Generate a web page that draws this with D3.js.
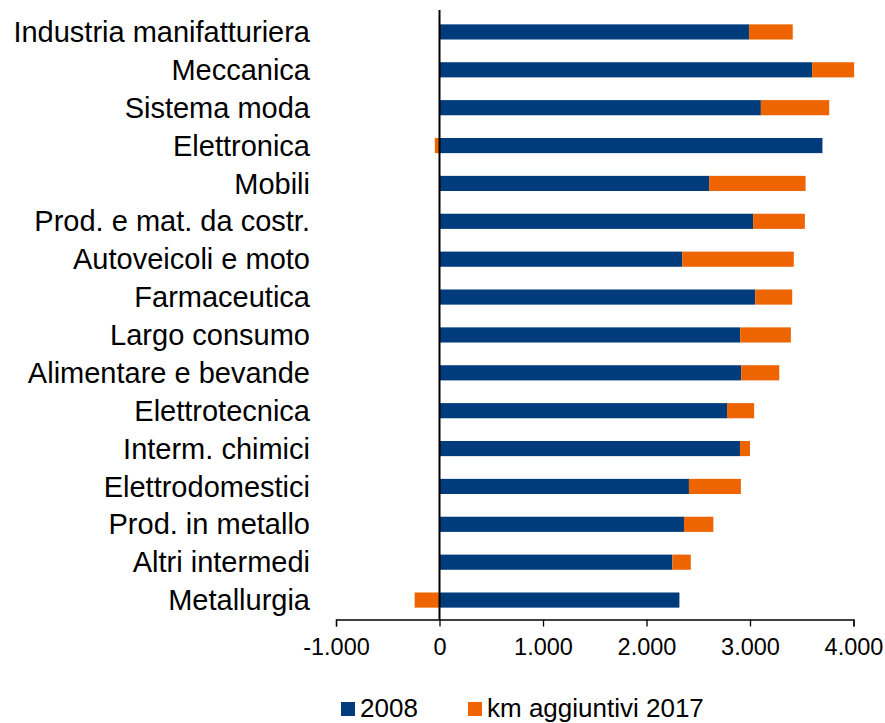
<!DOCTYPE html>
<html>
<head>
<meta charset="utf-8">
<script src="https://cdn.jsdelivr.net/npm/d3@7"></script>
<style>
  html, body { margin: 0; padding: 0; background: #fff; }
  svg { display: block; font-family: Arial, "Liberation Sans", sans-serif; }
</style>
</head>
<body>
<svg id="chart" width="885" height="723"></svg>
<script>
const categories = [
  "Industria manifatturiera", "Meccanica", "Sistema moda", "Elettronica", "Mobili",
  "Prod. e mat. da costr.", "Autoveicoli e moto", "Farmaceutica", "Largo consumo",
  "Alimentare e bevande", "Elettrotecnica", "Interm. chimici", "Elettrodomestici",
  "Prod. in metallo", "Altri intermedi", "Metallurgia"
];
const values2008 = [2990, 3600, 3105, 3700, 2605, 3030, 2345, 3050, 2905, 2915, 2778, 2903, 2410, 2362, 2250, 2318];
const extra2017 = [423, 406, 660, -45, 932, 500, 1078, 358, 490, 368, 262, 97, 502, 284, 178, -240];
const seriesNames = ["2008", "km aggiuntivi 2017"];
const tickValues = [-1000, 0, 1000, 2000, 3000, 4000];
const colors = ["#003b7b", "#ee6500"];

const svg = d3.select("#chart");
const x = d3.scaleLinear().domain([-1000, 4000]).range([336, 853.5]);
const y = d3.scaleBand().domain(categories).range([13, 619]).paddingInner(0.6).paddingOuter(0.3);
const it = d3.formatLocale({decimal: ",", thousands: ".", grouping: [3], currency: ["€", ""], minus: "-"});
const fmt = it.format(",d");

const rows = categories.map((c, i) => ({c, a: values2008[i], b: extra2017[i]}));

// 2008 bars
svg.append("g").selectAll("rect").data(rows).join("rect")
  .attr("x", d => x(Math.min(0, d.a)))
  .attr("y", d => y(d.c))
  .attr("width", d => Math.abs(x(d.a) - x(0)))
  .attr("height", y.bandwidth())
  .attr("fill", colors[0]);

// extra 2017 bars
svg.append("g").selectAll("rect").data(rows).join("rect")
  .attr("x", d => d.b >= 0 ? x(d.a) : x(d.b))
  .attr("y", d => y(d.c))
  .attr("width", d => d.b >= 0 ? x(d.a + d.b) - x(d.a) : x(0) - x(d.b))
  .attr("height", y.bandwidth())
  .attr("fill", colors[1]);

// category labels
svg.append("g").selectAll("text").data(categories).join("text")
  .attr("x", 310)
  .attr("y", d => y(d) + y.bandwidth() / 2)
  .attr("dy", "0.35em")
  .attr("text-anchor", "end")
  .attr("font-size", 29)
  .attr("fill", "#000")
  .text(d => d);

// x axis
const axisY = 619.5;
const xAxis = svg.append("g").attr("transform", `translate(0,${axisY})`)
  .call(d3.axisBottom(x).tickValues(tickValues).tickFormat(fmt).tickSize(7).tickPadding(12));
xAxis.select(".domain").attr("stroke", "#000").attr("stroke-width", 1.3);
xAxis.selectAll(".tick line").attr("stroke", "#000").attr("stroke-width", 1.3);
xAxis.selectAll(".tick text").attr("font-size", 23.5).attr("fill", "#000")
  .attr("font-family", "Arial, 'Liberation Sans', sans-serif");

// vertical zero line
svg.append("line")
  .attr("x1", x(0)).attr("x2", x(0))
  .attr("y1", 10).attr("y2", axisY)
  .attr("stroke", "#000").attr("stroke-width", 2);

// legend
const legendX = [341, 468];
const lg = svg.append("g").selectAll("g").data(seriesNames).join("g")
  .attr("transform", (d, i) => `translate(${legendX[i]},702)`);
lg.append("rect").attr("width", 14).attr("height", 14).attr("fill", (d, i) => colors[i]);
lg.append("text").attr("x", 19).attr("y", 15).attr("font-size", 26).attr("fill", "#000").text(d => d);
</script>
</body>
</html>
